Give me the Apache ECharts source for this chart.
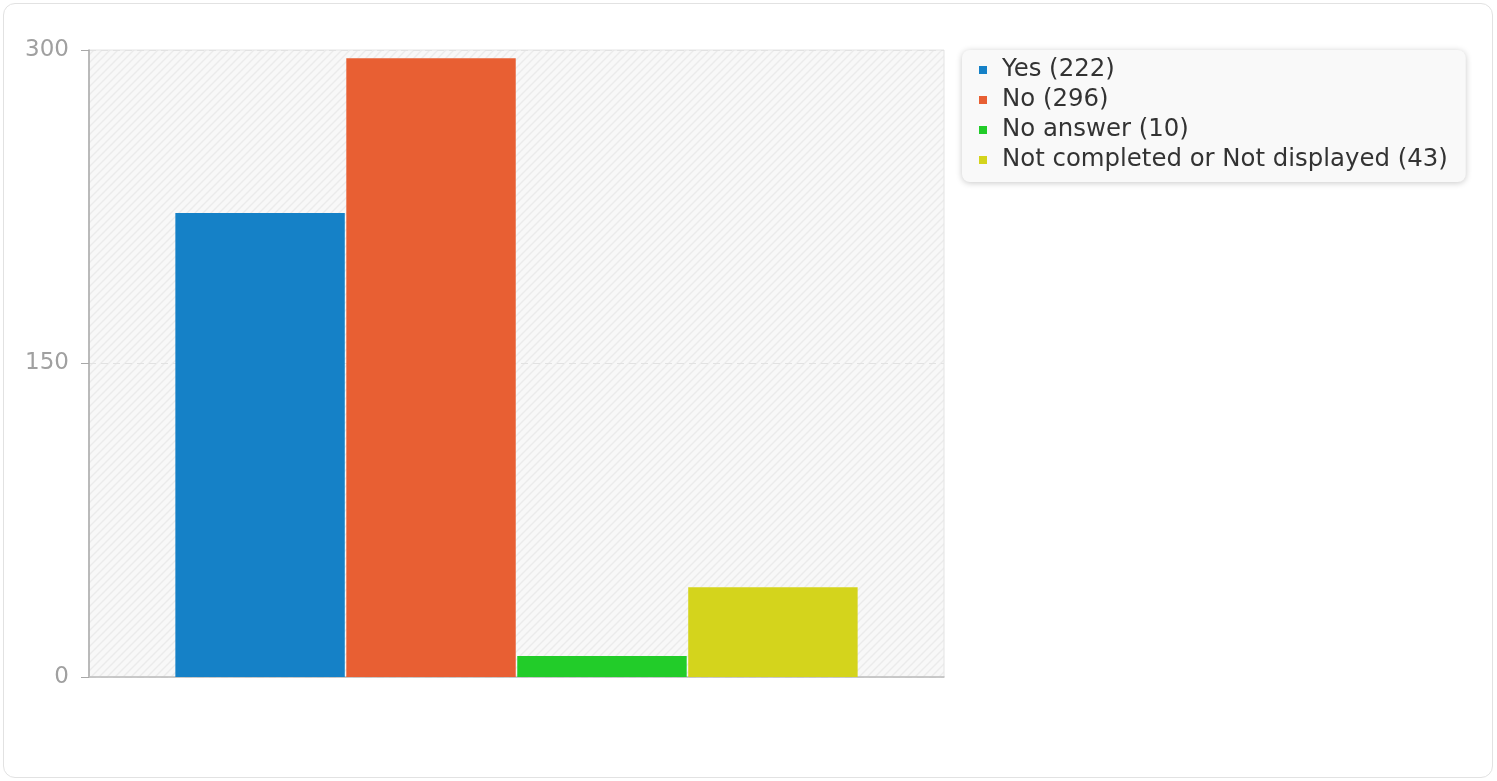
<!DOCTYPE html>
<html>
<head>
<meta charset="utf-8">
<script src="https://cdn.jsdelivr.net/npm/echarts@6/dist/echarts.min.js"></script>
<style>
html,body{margin:0;padding:0;background:#fff;}
#frame{position:absolute;left:3px;top:3px;width:1490px;height:775px;border:1px solid #e2e2e2;border-radius:12px;box-sizing:border-box;}
#chart{position:absolute;left:0;top:0;width:1497px;height:781px;}
</style>
</head>
<body>
<div id="frame"></div>
<div id="chart"></div>
<script>
const categories = [''];
const seriesNames = ['Yes', 'No', 'No answer', 'Not completed or Not displayed'];
const seriesValues = [222, 296, 10, 43];
const seriesColors = ['#1581c7', '#e85f33', '#22cc29', '#d4d41c'];
const yTicks = [0, 150, 300];

function makePattern() {
  const c = document.createElement('canvas');
  c.width = 8; c.height = 8;
  const ctx = c.getContext('2d');
  ctx.fillStyle = '#f8f8f8';
  ctx.fillRect(0, 0, 8, 8);
  ctx.strokeStyle = '#ebebeb';
  ctx.lineWidth = 1.4;
  ctx.beginPath();
  ctx.moveTo(-1, 9); ctx.lineTo(9, -1);
  ctx.moveTo(-1, 1); ctx.lineTo(1, -1);
  ctx.moveTo(7, 9); ctx.lineTo(9, 7);
  ctx.stroke();
  return c;
}

const chart = echarts.init(document.getElementById('chart'));
const font = 'DejaVu Sans';
const series = seriesNames.map((n, i) => ({
  name: n + ' (' + seriesValues[i] + ')',
  type: 'bar',
  data: [seriesValues[i]],
  barGap: '0.9%',
  barCategoryGap: '20.2%',
  itemStyle: { color: seriesColors[i] },
  emphasis: { disabled: true }
}));

chart.setOption({
  animation: false,
  textStyle: { fontFamily: font },
  grid: {
    left: 89, top: 50, right: 553, bottom: 104,
    show: true,
    borderColor: '#e4e4e4',
    borderWidth: 1,
    backgroundColor: { image: makePattern(), repeat: 'repeat' }
  },
  legend: {
    orient: 'vertical',
    left: 962,
    top: 50,
    backgroundColor: '#f9f9f9',
    borderRadius: 8,
    shadowBlur: 6,
    shadowColor: 'rgba(0,0,0,0.22)',
    shadowOffsetY: 1,
    padding: [8, 18, 10, 17],
    icon: 'path://M0,0H1V1H0Z',
    itemWidth: 28,
    itemHeight: 8,
    itemGap: 6,
    textStyle: { fontSize: 24.4, color: '#333', fontFamily: font, lineHeight: 22 },
    selectedMode: false
  },
  xAxis: {
    type: 'category',
    data: categories,
    axisLine: { lineStyle: { color: '#bdbdbd', width: 1.5 } },
    axisTick: { show: false },
    axisLabel: { show: false },
    splitLine: { show: false }
  },
  yAxis: {
    type: 'value',
    min: yTicks[0],
    max: yTicks[yTicks.length - 1],
    interval: yTicks[1] - yTicks[0],
    axisLine: { show: true, lineStyle: { color: '#a8a8a8', width: 1.5 } },
    axisTick: { show: true, length: 8, lineStyle: { color: '#a8a8a8' } },
    axisLabel: { margin: 20, fontSize: 23, color: '#a0a0a0', fontFamily: font },
    splitLine: { show: true, lineStyle: { color: '#e2e2e2', type: [7, 5] } }
  },
  series: series
});
</script>
</body>
</html>
